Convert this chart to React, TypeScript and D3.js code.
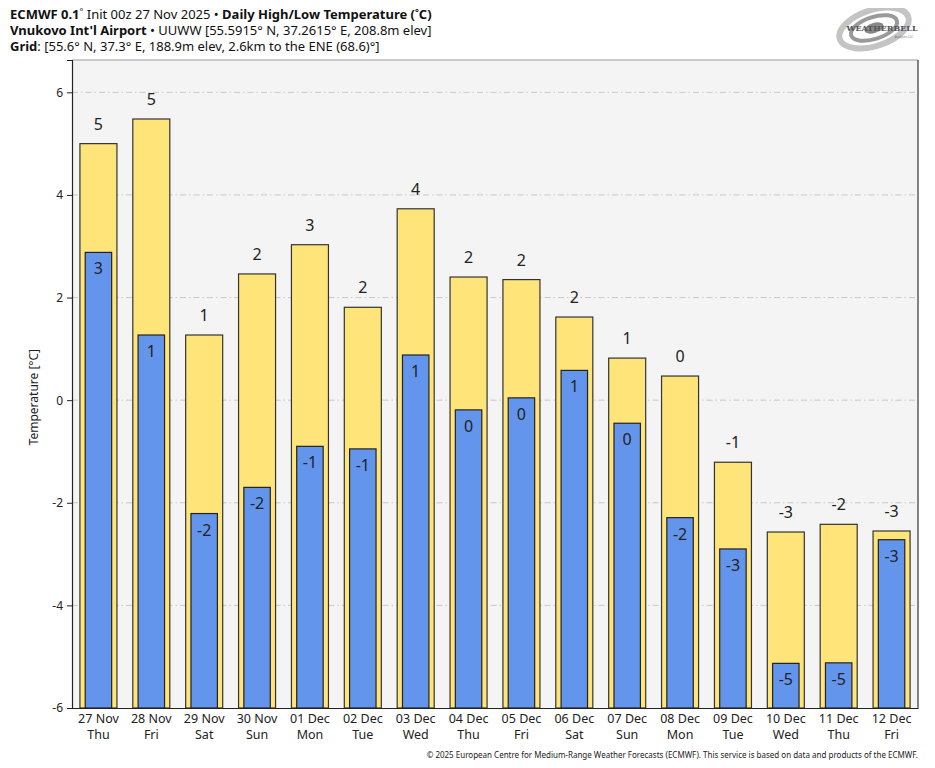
import { useEffect, useRef } from "react";
import * as d3 from "d3";

const DATES = ["27 Nov", "28 Nov", "29 Nov", "30 Nov", "01 Dec", "02 Dec", "03 Dec", "04 Dec",
  "05 Dec", "06 Dec", "07 Dec", "08 Dec", "09 Dec", "10 Dec", "11 Dec", "12 Dec"];
const WEEKDAYS = ["Thu", "Fri", "Sat", "Sun", "Mon", "Tue", "Wed", "Thu",
  "Fri", "Sat", "Sun", "Mon", "Tue", "Wed", "Thu", "Fri"];
const HIGHS = [5.0, 5.48, 1.27, 2.46, 3.03, 1.81, 3.73, 2.4, 2.35, 1.62, 0.82, 0.47, -1.21, -2.57, -2.42, -2.55];
const LOWS = [2.88, 1.27, -2.21, -1.7, -0.9, -0.95, 0.88, -0.19, 0.045, 0.58, -0.45, -2.29, -2.9, -5.13, -5.12, -2.72];
const Y_TICKS = [-6, -4, -2, 0, 2, 4, 6];

const FONT = "'Noto Sans', 'Open Sans', sans-serif";

function fmt(v: number) {
  const r = Math.round(v);
  return r === 0 ? "0" : String(r);
}

export default function App() {
  const svgRef = useRef<SVGSVGElement>(null);

  useEffect(() => {
    if (!svgRef.current) return;
    const svg = d3.select(svgRef.current);
    svg.selectAll("*").remove();

    const margin = { top: 60, right: 17, bottom: 60, left: 72 };
    const W = 935, H = 768;
    const width = W - margin.left - margin.right;
    const height = H - margin.top - margin.bottom;

    svg.style("font-family", FONT);

    // header
    const hdr = svg.append("g").attr("fill", "#111").style("font-size", "13px");
    const l1 = hdr.append("text").attr("x", 10).attr("y", 19);
    l1.append("tspan").attr("font-weight", "bold").text("ECMWF 0.1");
    l1.append("tspan").attr("font-size", "9px").attr("dy", -4).text("°");
    l1.append("tspan").attr("dy", 4).text(" Init 00z 27 Nov 2025 • ");
    l1.append("tspan").attr("font-weight", "bold").text("Daily High/Low Temperature (");
    l1.append("tspan").attr("font-weight", "bold").attr("font-size", "9px").attr("dy", -4).text("°");
    l1.append("tspan").attr("font-weight", "bold").attr("dy", 4).text("C)");

    const l2 = hdr.append("text").attr("x", 10).attr("y", 35);
    l2.append("tspan").attr("font-weight", "bold").text("Vnukovo Int'l Airport");
    l2.append("tspan").text(" • UUWW [55.5915° N, 37.2615° E, 208.8m elev]");

    const l3 = hdr.append("text").attr("x", 10).attr("y", 51);
    l3.append("tspan").attr("font-weight", "bold").text("Grid");
    l3.append("tspan").text(": [55.6° N, 37.3° E, 188.9m elev, 2.6km to the ENE (68.6)°]");

    // logo
    const logo = svg.append("g").attr("transform", "translate(874,28)");
    logo.append("ellipse").attr("rx", 36).attr("ry", 18).attr("fill", "none")
      .attr("stroke", "#c4c4c4").attr("stroke-width", 6).attr("transform", "rotate(-18)");
    logo.append("ellipse").attr("rx", 24).attr("ry", 11).attr("fill", "none")
      .attr("stroke", "#9a9a9a").attr("stroke-width", 4).attr("transform", "rotate(-18)");
    logo.append("ellipse").attr("rx", 10).attr("ry", 5).attr("fill", "#888")
      .attr("transform", "rotate(-18)");
    logo.append("text").attr("x", 8).attr("y", 3).attr("text-anchor", "middle")
      .attr("font-family", "'DejaVu Serif', serif").attr("font-weight", "bold")
      .attr("font-size", "8px").attr("fill", "#555").text("WEATHERBELL");
    logo.append("text").attr("x", 30).attr("y", 10).attr("text-anchor", "middle")
      .attr("font-size", "3px").attr("fill", "#777").text("Analytics LLC");

    const g = svg.append("g").attr("transform", `translate(${margin.left},${margin.top})`);

    const x = d3.scaleBand<number>().domain(d3.range(DATES.length)).range([0, width]).padding(0);
    const y = d3.scaleLinear().domain([-6, 6.63]).range([height, 0]);

    g.append("rect").attr("width", width).attr("height", height).attr("fill", "#f4f4f4");

    // grid
    g.selectAll("line.grid").data(Y_TICKS.filter((t) => t > -6)).enter().append("line")
      .attr("class", "grid")
      .attr("x1", 0).attr("x2", width)
      .attr("y1", (d) => y(d)).attr("y2", (d) => y(d))
      .attr("stroke", "#c8c8c8").attr("stroke-width", 1)
      .attr("stroke-dasharray", "6,3,1.5,3");

    const bw = x.bandwidth();
    const hiW = bw * 0.7;
    const loW = bw * 0.5;

    g.selectAll("rect.hi").data(HIGHS).enter().append("rect")
      .attr("x", (_, i) => x(i)! + (bw - hiW) / 2)
      .attr("y", (d) => y(d))
      .attr("width", hiW)
      .attr("height", (d) => y(-6) - y(d))
      .attr("fill", "#ffe47a").attr("stroke", "#333").attr("stroke-width", 1.2);

    g.selectAll("rect.lo").data(LOWS).enter().append("rect")
      .attr("x", (_, i) => x(i)! + (bw - loW) / 2)
      .attr("y", (d) => y(d))
      .attr("width", loW)
      .attr("height", (d) => y(-6) - y(d))
      .attr("fill", "#6495ed").attr("stroke", "#222").attr("stroke-width", 1.2);

    g.selectAll("text.hl").data(HIGHS).enter().append("text")
      .attr("x", (_, i) => x(i)! + bw / 2)
      .attr("y", (d) => y(d) - 14)
      .attr("text-anchor", "middle").attr("font-size", "16px").attr("fill", "#222")
      .text((d) => fmt(d));

    g.selectAll("text.ll").data(LOWS).enter().append("text")
      .attr("x", (_, i) => x(i)! + bw / 2)
      .attr("y", (d) => y(d) + 22)
      .attr("text-anchor", "middle").attr("font-size", "16px").attr("fill", "#222")
      .text((d) => fmt(d));

    // frame
    g.append("line").attr("x1", 0).attr("x2", width).attr("y1", 0).attr("y2", 0)
      .attr("stroke", "#999").attr("stroke-width", 1);
    g.append("line").attr("x1", width).attr("x2", width).attr("y1", 0).attr("y2", height)
      .attr("stroke", "#333").attr("stroke-width", 1.2);

    // y axis
    const ya = g.append("g").call(d3.axisLeft(y).tickValues(Y_TICKS).tickSize(5).tickPadding(4).tickFormat((d) => String(d)));
    ya.select(".domain").attr("stroke", "#222").attr("stroke-width", 1.2);
    ya.selectAll(".tick line").attr("stroke", "#222");
    ya.selectAll("text").attr("font-size", "12px").attr("fill", "#222").attr("font-family", FONT);

    // x axis
    const xa = g.append("g").attr("transform", `translate(0,${height})`)
      .call(d3.axisBottom(x).tickSize(0).tickFormat(() => ""));
    xa.select(".domain").attr("stroke", "#222").attr("stroke-width", 1.2);
    xa.selectAll(".tick").each(function (d) {
      const i = d as number;
      const t = d3.select(this).append("text").attr("fill", "#222")
        .attr("font-size", "12.5px").attr("font-family", FONT).attr("text-anchor", "middle");
      t.append("tspan").attr("x", 0).attr("y", 15).text(DATES[i]);
      t.append("tspan").attr("x", 0).attr("y", 31).text(WEEKDAYS[i]);
    });

    // y label
    svg.append("text")
      .attr("transform", `translate(38,${margin.top + y(0) - 3}) rotate(-90)`)
      .attr("text-anchor", "middle").attr("font-size", "12px").attr("fill", "#222")
      .text("Temperature [°C]");

    // footer
    svg.append("text").attr("x", 918).attr("y", 758).attr("text-anchor", "end")
      .attr("font-size", "8px").attr("fill", "#222")
      .text("© 2025 European Centre for Medium-Range Weather Forecasts (ECMWF). This service is based on data and products of the ECMWF.");
  }, []);

  return (
    <div style={{ margin: -8, width: 935, height: 768, background: "#fff" }}>
      <svg ref={svgRef} width={935} height={768} />
    </div>
  );
}
